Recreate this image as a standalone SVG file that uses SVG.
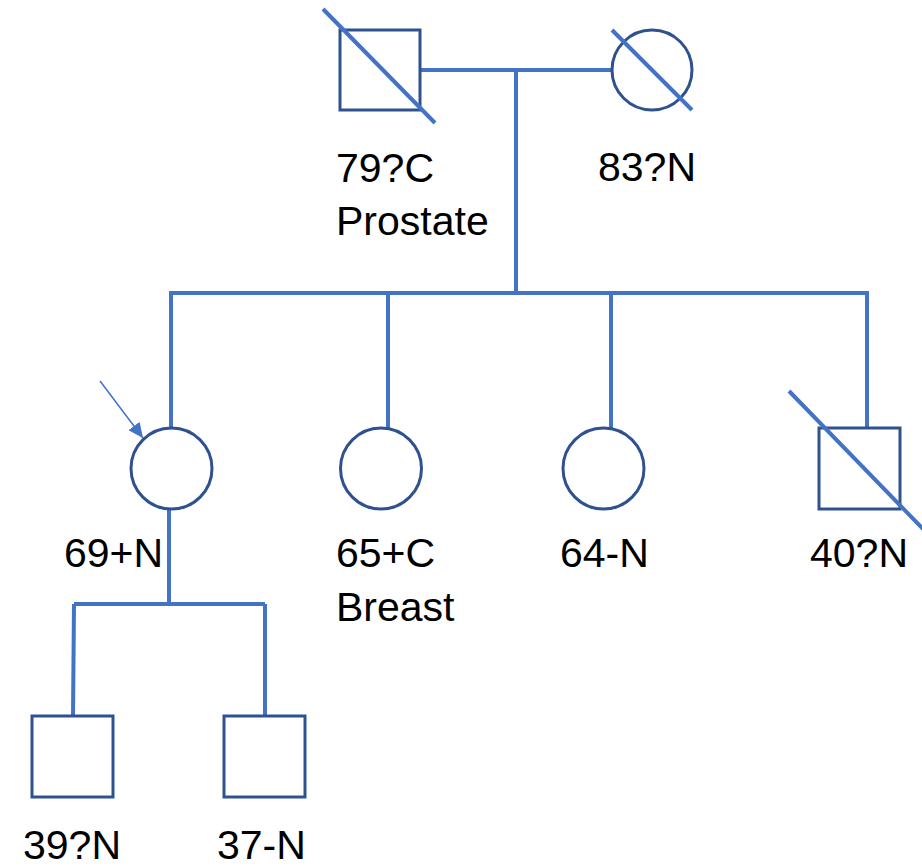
<svg xmlns="http://www.w3.org/2000/svg" width="922" height="868" viewBox="0 0 922 868">
<defs>
<style>
.sh{fill:#fff;stroke:#2F528F;stroke-width:3}
.ln{fill:none;stroke:#4472C4;stroke-width:4}
.sl{stroke:#4472C4;stroke-width:4}
.tx{font-family:"Liberation Sans",Arial,sans-serif;font-size:41px;fill:#000}
</style>
<marker id="ah" markerWidth="15" markerHeight="14" refX="15" refY="7" orient="auto" markerUnits="userSpaceOnUse" viewBox="0 0 15 14">
<path d="M0,0 L15,7 L0,14 z" fill="#4472C4"/>
</marker>
</defs>
<g id="connectors">
<path class="ln" d="M420,70 H612"/>
<path class="ln" d="M516,70 V293"/>
<path class="ln" d="M171,293 H867"/>
<path class="ln" d="M171,291 V428"/>
<path class="ln" d="M388,293 V428"/>
<path class="ln" d="M611,293 V428"/>
<path class="ln" d="M867,291 V428"/>
<path class="ln" d="M169,509 V604"/>
<path class="ln" d="M74,604 H265"/>
<path class="ln" d="M74,604 L73,716"/>
<path class="ln" d="M265,604 V716"/>
<line x1="100" y1="381" x2="143" y2="438" stroke="#4472C4" stroke-width="1.5" marker-end="url(#ah)"/>
</g>
<g id="n79">
<rect class="sh" x="340" y="30" width="80" height="80"/>
<line class="sl" x1="323" y1="9" x2="435" y2="123"/>
<text class="tx" x="336" y="182">79?C</text>
<text class="tx" x="336" y="235">Prostate</text>
</g>
<g id="n83">
<circle class="sh" cx="652" cy="70" r="40"/>
<line class="sl" x1="612" y1="30" x2="692" y2="110"/>
<text class="tx" x="598" y="181">83?N</text>
</g>
<g id="n69">
<circle class="sh" cx="171.5" cy="468.5" r="40.5"/>
<text class="tx" x="64" y="567">69+N</text>
</g>
<g id="n65">
<circle class="sh" cx="381" cy="468.5" r="40.5"/>
<text class="tx" x="336" y="567">65+C</text>
<text class="tx" x="336" y="621">Breast</text>
</g>
<g id="n64">
<circle class="sh" cx="603.5" cy="468.5" r="40.5"/>
<text class="tx" x="560" y="567">64-N</text>
</g>
<g id="n40">
<rect class="sh" x="819" y="428" width="81" height="81"/>
<line class="sl" x1="789" y1="391" x2="924" y2="530"/>
<text class="tx" x="810" y="567">40?N</text>
</g>
<g id="n39">
<rect class="sh" x="32" y="716" width="81" height="81"/>
<text class="tx" x="23" y="859">39?N</text>
</g>
<g id="n37">
<rect class="sh" x="224" y="716" width="81" height="81"/>
<text class="tx" x="217" y="859">37-N</text>
</g>
</svg>
